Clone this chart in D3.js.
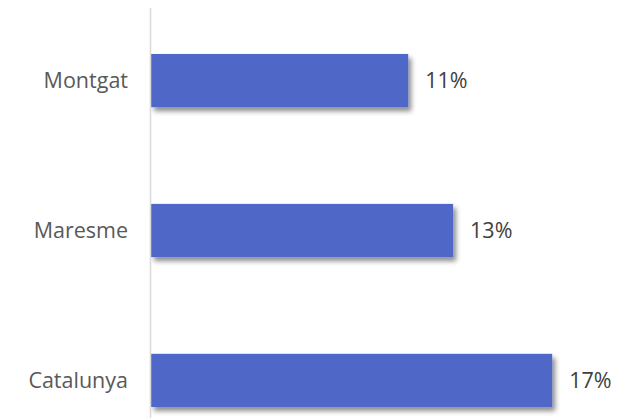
<!DOCTYPE html>
<html><head><meta charset="utf-8">
<script src="https://cdn.jsdelivr.net/npm/d3@7"></script>
<style>html,body{margin:0;padding:0;background:#fff;}svg{display:block;}</style>
</head><body>
<svg id="chart" width="629" height="418"></svg>
<script>
const categories = ["Montgat", "Maresme", "Catalunya"];
const values = [0.109, 0.128, 0.170];
const valueLabels = ["11%", "13%", "17%"];

const svg = d3.select("#chart");
const W = 629, H = 418;
const x = d3.scaleLinear().domain([0, 0.2]).range([151, 623]);
const y = d3.scaleBand().domain(categories).range([6, 455]).paddingInner(0.645).paddingOuter(0.32);

const defs = svg.append("defs");
const f = defs.append("filter").attr("id", "sh").attr("x", "-10%").attr("y", "-30%").attr("width", "130%").attr("height", "180%");
f.append("feDropShadow").attr("dx", 3).attr("dy", 4).attr("stdDeviation", 2.5).attr("flood-color", "#000").attr("flood-opacity", 0.45);

const data = categories.map((c, i) => ({c, v: values[i], l: valueLabels[i]}));

svg.selectAll("rect.bar").data(data).enter().append("rect")
  .attr("class", "bar")
  .attr("x", x(0))
  .attr("y", d => y(d.c))
  .attr("width", d => x(d.v) - x(0))
  .attr("height", y.bandwidth())
  .attr("fill", "#4F68C8")
  .attr("filter", "url(#sh)");

// axis line
svg.append("line").attr("x1", 150.5).attr("x2", 150.5).attr("y1", 8).attr("y2", H)
  .attr("stroke", "#d9d9d9").attr("stroke-width", 1.5);

svg.selectAll("text.cat").data(data).enter().append("text")
  .attr("class", "cat")
  .attr("x", 128)
  .attr("y", d => y(d.c) + y.bandwidth() / 2)
  .attr("dy", "0.33em")
  .attr("text-anchor", "end")
  .attr("font-family", "Open Sans, Lato, sans-serif")
  .attr("font-size", 21.5)
  .attr("fill", "#595959")
  .text(d => d.c);

svg.selectAll("text.val").data(data).enter().append("text")
  .attr("class", "val")
  .attr("x", d => x(d.v) + 17)
  .attr("y", d => y(d.c) + y.bandwidth() / 2)
  .attr("dy", "0.33em")
  .attr("font-family", "Open Sans, Lato, sans-serif")
  .attr("font-size", 21.5)
  .attr("fill", "#404040")
  .text(d => d.l);
</script>
</body></html>
